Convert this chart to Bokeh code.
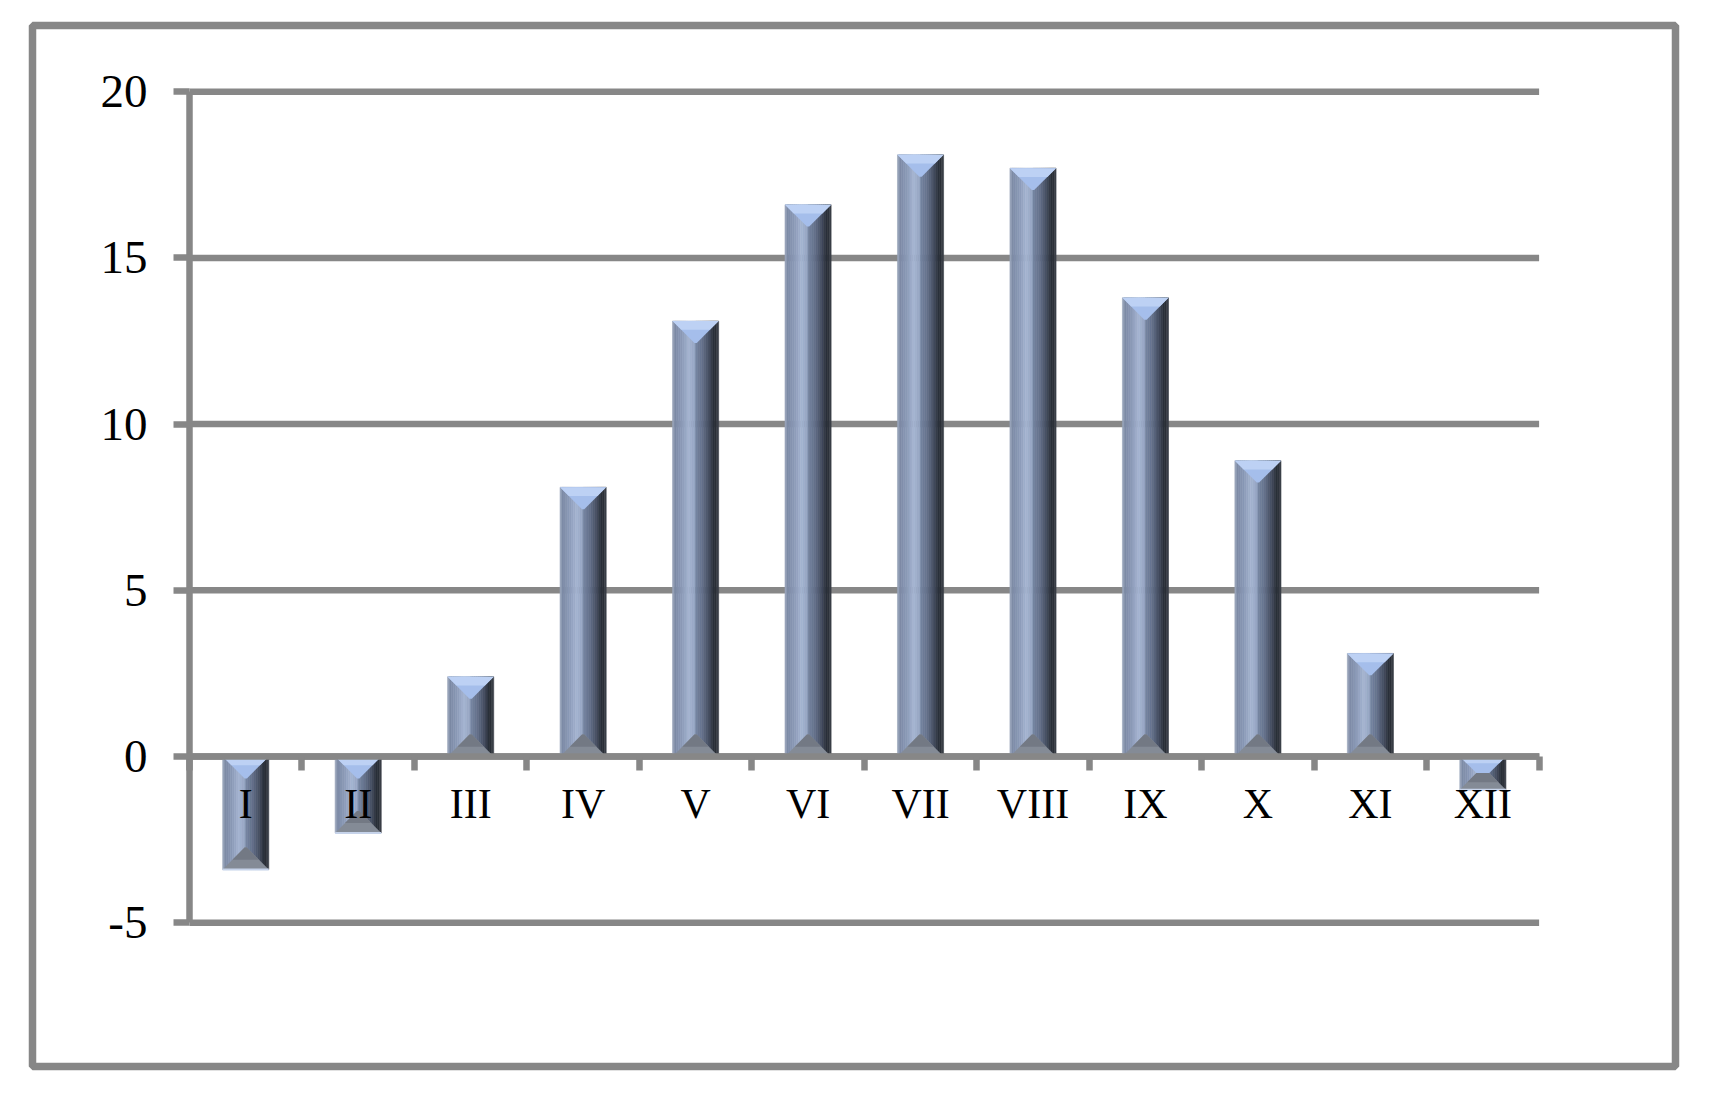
from bokeh.plotting import figure
from bokeh.models import Range1d, FixedTicker, LinearAxis, ColumnDataSource
from bokeh.embed import file_html
from bokeh.resources import INLINE

# ---------------- data ----------------
months = ["I", "II", "III", "IV", "V", "VI", "VII", "VIII", "IX", "X", "XI", "XII"]
values = [-3.4, -2.3, 2.4, 8.1, 13.1, 16.6, 18.1, 17.7, 13.8, 8.9, 3.1, -1.0]
y_ticks = [-5, 0, 5, 10, 15, 20]
y_tick_labels = ["-5", "0", "5", "10", "15", "20"]

# ---------------- style / geometry ----------------
GRAY = "#878787"
FONT = "Liberation Serif"
FRAME_W, FRAME_H = 1643, 1041
AX_LEFT_PX, AX_RIGHT_PX = 157.0, 136.4
Y_TOP_PX, Y_BOT_PX = 66.2, 143.8
BAR_W = 0.41
N_STRIPS = 24

n = len(months)
ymin, ymax = y_ticks[0], y_ticks[-1]
ppx = (FRAME_W - AX_LEFT_PX - AX_RIGHT_PX) / n
ppy = (FRAME_H - Y_TOP_PX - Y_BOT_PX) / (ymax - ymin)
x_range = Range1d(-AX_LEFT_PX / ppx, n + AX_RIGHT_PX / ppx)
y_range = Range1d(ymin - Y_BOT_PX / ppy, ymax + Y_TOP_PX / ppy)

p = figure(frame_width=FRAME_W, frame_height=FRAME_H,
           min_border_left=32, min_border_right=14, min_border_top=25, min_border_bottom=12,
           x_range=x_range, y_range=y_range,
           x_axis_location=None, y_axis_location=None,
           output_backend="svg", toolbar_location=None)
p.outline_line_color = GRAY
p.outline_line_width = 7.5
p.background_fill_color = "white"
p.border_fill_color = "white"
p.grid.visible = False

# horizontal gridlines, spanning the category axis only
p.segment(x0=[0] * len(y_ticks), x1=[n] * len(y_ticks), y0=y_ticks, y1=y_ticks,
          line_color=GRAY, line_width=6.5)

# ---------------- bevelled bars ----------------
stops = [(0.00, "#aab5c8"), (0.05, "#7c8aa5"), (0.20, "#8a99b6"), (0.36, "#a5b4d1"),
         (0.49, "#94a4c1"), (0.50, "#7787a4"), (0.65, "#63708a"), (0.80, "#434c5f"),
         (0.92, "#242931"), (1.00, "#40454e")]


def hex2rgb(h):
    return tuple(int(h[i:i + 2], 16) for i in (1, 3, 5))


def grad(t):
    for (t0, c0), (t1, c1) in zip(stops[:-1], stops[1:]):
        if t0 <= t <= t1:
            f = (t - t0) / (t1 - t0) if t1 > t0 else 0
            a, b = hex2rgb(c0), hex2rgb(c1)
            return "#%02x%02x%02x" % tuple(round(a[k] + (b[k] - a[k]) * f) for k in range(3))
    return stops[-1][1]


sx, sw, st, sb, sc = [], [], [], [], []
top_xs, top_ys, band_xs, band_ys = [], [], [], []
bot_xs, bot_ys, bband_xs, bband_ys, edge_xs, edge_ys = [], [], [], [], [], []
for i, v in enumerate(values):
    c = i + 0.5
    l, r = c - BAR_W / 2, c + BAR_W / 2
    top, bot = max(v, 0), min(v, 0)
    for k in range(N_STRIPS):
        sx.append(l + (k + 0.5) * BAR_W / N_STRIPS)
        sw.append(BAR_W / N_STRIPS)
        st.append(top)
        sb.append(bot)
        sc.append(grad((k + 0.5) / N_STRIPS))
    hw_px = BAR_W * ppx / 2
    h_px = (top - bot) * ppy
    s_px = min(hw_px * 0.95, h_px / 2)
    il, ir = c - (hw_px - s_px) / ppx, c + (hw_px - s_px) / ppx
    itop, ibot = top - s_px / ppy, bot + s_px / ppy
    top_xs.append([l, r, ir, il]); top_ys.append([top, top, itop, itop])
    f = 0.4
    band_xs.append([l, r, r + (ir - r) * f, l + (il - l) * f])
    band_ys.append([top, top, top + (itop - top) * f, top + (itop - top) * f])
    bot_xs.append([l, r, ir, il]); bot_ys.append([bot, bot, ibot, ibot])
    g = 0.45
    bband_xs.append([l + (il - l) * g, r + (ir - r) * g, ir, il])
    bband_ys.append([bot + (ibot - bot) * g, bot + (ibot - bot) * g, ibot, ibot])
    edge_xs.append([l, r]); edge_ys.append([bot, bot])

p.vbar(x="x", width="w", top="t", bottom="b", fill_color="c", line_color="c", line_width=0.6,
       source=ColumnDataSource(dict(x=sx, w=sw, t=st, b=sb, c=sc)))
p.patches(top_xs, top_ys, fill_color="#a5beeb", line_color=None)
p.patches(band_xs, band_ys, fill_color="#bdd1f4", line_color=None)
p.patches(bot_xs, bot_ys, fill_color="#848b96", line_color=None)
p.patches(bband_xs, bband_ys, fill_color="#737984", line_color=None)
p.multi_line(edge_xs, edge_ys, line_color="#c6d3ea", line_width=2)

# ---------------- axes ----------------
yaxis = LinearAxis(fixed_location=0, bounds=(ymin, ymax), ticker=FixedTicker(ticks=y_ticks),
                   major_label_overrides={t: s for t, s in zip(y_ticks, y_tick_labels)})
yaxis.axis_line_color = GRAY
yaxis.axis_line_width = 6.5
yaxis.major_tick_line_color = GRAY
yaxis.major_tick_line_width = 6.5
yaxis.major_tick_out = 16
yaxis.major_tick_in = 0
yaxis.minor_tick_line_color = None
yaxis.major_label_standoff = 26
yaxis.major_label_text_font = FONT
yaxis.major_label_text_font_size = "47px"
yaxis.major_label_text_color = "black"
p.add_layout(yaxis, "left")

centers = [i + 0.5 for i in range(n)]
xaxis = LinearAxis(fixed_location=0, bounds=(0, n),
                   ticker=FixedTicker(ticks=centers, minor_ticks=list(range(n + 1))),
                   major_label_overrides={c: m for c, m in zip(centers, months)})
xaxis.axis_line_color = GRAY
xaxis.axis_line_width = 6.5
xaxis.major_tick_line_color = None
xaxis.major_tick_out = 0
xaxis.major_tick_in = 0
xaxis.minor_tick_line_color = GRAY
xaxis.minor_tick_line_width = 6.5
xaxis.minor_tick_out = 14
xaxis.minor_tick_in = 0
xaxis.major_label_standoff = 10
xaxis.major_label_text_font = FONT
xaxis.major_label_text_font_size = "42px"
xaxis.major_label_text_color = "black"
p.add_layout(xaxis, "below")

open("out.html", "w").write(file_html(p, INLINE))
